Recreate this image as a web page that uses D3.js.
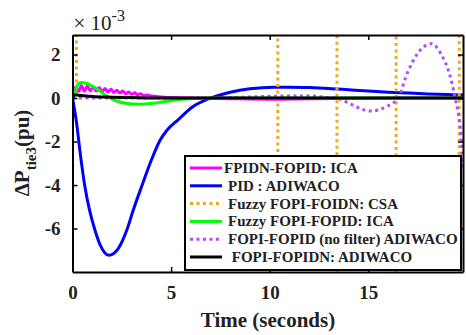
<!DOCTYPE html>
<html>
<head>
<meta charset="utf-8">
<script src="https://cdn.jsdelivr.net/npm/d3@7"></script>
<style>
  body { margin: 0; background: #fff; }
</style>
</head>
<body>
<div id="chart"></div>
<script>
// Tie-line power deviation (area 3), values in units of 1e-3 pu

var xTicks = [0, 5, 10, 15];
var yTicks = [-6, -4, -2, 0, 2];

// [time, value]
var fpidnIca = [[0,0],[0.15,0.5],[0.3,0.3],[0.45,0.58],[0.6,0.32],[0.75,0.55],[0.9,0.33],[1.05,0.52],[1.2,0.32],
  [1.35,0.48],[1.5,0.3],[1.65,0.44],[1.8,0.28],[1.95,0.4],[2.1,0.26],[2.25,0.36],[2.4,0.23],[2.55,0.32],
  [2.7,0.2],[2.85,0.28],[3.0,0.17],[3.15,0.24],[3.3,0.15],[3.45,0.2],[3.6,0.12],[3.8,0.14],[4.0,0.09],
  [4.5,0.05],[5,0.02],[6,0],[8,-0.03],[10,-0.05],[12,-0.03],[15,-0.01],[19.8,0]];

var pidAdiwaco = [[0,0],[0.2,-1.1],[0.4,-2.6],[0.63,-4.08],[0.85,-5.1],[1.14,-6.08],[1.4,-6.75],[1.85,-7.23],
  [2.3,-6.95],[2.75,-6.08],[3.1,-5.1],[3.5,-4.08],[4.0,-2.85],[4.44,-1.94],[4.8,-1.47],[5.35,-1.0],
  [6.1,-0.4],[7.0,0],[8,0.27],[9,0.43],[10.2,0.5],[11,0.5],[12,0.48],[13,0.44],[14,0.38],[15,0.32],
  [16,0.27],[17,0.23],[18,0.19],[19,0.16],[19.8,0.14]];

var fuzzyFoidnCsa = [[0,0],[0.2,0],[0.2,40],[10.4,40],[10.42,-40],[13.4,-40],[13.42,40],[16.4,40],
  [16.42,-40],[19.6,-40],[19.62,40],[19.8,40]];

var fuzzyFopidIca = [[0,0],[0.1,0.15],[0.25,0.6],[0.42,0.72],[0.7,0.68],[1.0,0.55],[1.3,0.38],[1.6,0.18],
  [1.9,0],[2.3,-0.16],[2.8,-0.25],[3.4,-0.28],[4,-0.25],[4.6,-0.17],[5.2,-0.09],[6,-0.03],[7,0],[19.8,0]];

var fopidNoFilter = [[0,0],[5,0],[8,0.02],[9,0.05],[10,0.08],[11,0.1],[12,0.1],[13,0.02],[13.4,0],
  [14.1,-0.28],[15.1,-0.6],[15.9,-0.4],[16.5,0],[17.0,1.2],[17.5,2.05],[18.2,2.5],[18.7,2.0],
  [19.1,1.15],[19.4,0],[19.7,-1.8],[19.8,-3.2]];

var fopidnAdiwaco = [[0,0],[0.15,0.15],[0.4,0.12],[1,0.07],[2,0.04],[3,0.02],[4,0],[19.8,0]];

var seriesNames = ["FPIDN-FOPID: ICA", "PID : ADIWACO", "Fuzzy FOPI-FOIDN: CSA",
  "Fuzzy FOPI-FOPID: ICA", "FOPI-FOPID (no filter) ADIWACO", " FOPI-FOPIDN: ADIWACO"];
var seriesData = [fpidnIca, pidAdiwaco, fuzzyFoidnCsa, fuzzyFopidIca, fopidNoFilter, fopidnAdiwaco];
var seriesColors = ["#ff00ff", "#0000ff", "#eda920", "#00ff00", "#b04dff", "#000000"];
var seriesDash = [null, null, "3,3.5", null, "3,3.5", null];

var serif = '"Liberation Serif", "Times New Roman", serif';
var W = 466, H = 335;
var margin = {top: 35, right: 3, bottom: 63, left: 72.5};

var svg = d3.select("#chart").append("svg")
  .attr("width", W).attr("height", H);

var x = d3.scaleLinear().domain([0, 19.8]).range([margin.left, W - margin.right]);
var y = d3.scaleLinear().domain([-8, 2.9]).range([H - margin.bottom, margin.top]);

svg.append("clipPath").attr("id", "plotclip")
  .append("rect")
    .attr("x", x(0)).attr("y", y(2.9))
    .attr("width", x(19.8) - x(0)).attr("height", y(-8) - y(2.9));

var line = d3.line()
  .x(function(d) { return x(d[0]); })
  .y(function(d) { return y(d[1]); })
  .curve(d3.curveMonotoneX);

var lineStraight = d3.line()
  .x(function(d) { return x(d[0]); })
  .y(function(d) { return y(d[1]); });

var plot = svg.append("g").attr("clip-path", "url(#plotclip)");

seriesData.forEach(function(data, i) {
  plot.append("path")
    .datum(data)
    .attr("d", i == 2 ? lineStraight : line)
    .attr("fill", "none")
    .attr("stroke", seriesColors[i])
    .attr("stroke-width", 3)
    .attr("stroke-dasharray", seriesDash[i]);
});

// axes (inward ticks, full box)
var fmt = function(d) { return d; };
function styleAxis(g) {
  g.attr("font-family", serif);
  g.selectAll("text")
    .style("font-family", serif)
    .style("font-size", "19px")
    .style("font-weight", "bold")
    .attr("fill", "#222");
  g.select(".domain").attr("stroke-width", 2);
  g.selectAll(".tick line").attr("stroke-width", 1.5);
}
svg.append("g")
  .attr("transform", "translate(0," + y(-8) + ")")
  .call(d3.axisBottom(x).tickValues(xTicks).tickSizeInner(-5).tickSizeOuter(0).tickPadding(14).tickFormat(fmt))
  .call(styleAxis);
svg.append("g")
  .attr("transform", "translate(0," + y(2.9) + ")")
  .call(d3.axisTop(x).tickValues(xTicks).tickSizeInner(-5).tickSizeOuter(0).tickFormat(""))
  .call(styleAxis);
svg.append("g")
  .attr("transform", "translate(" + x(0) + ",0)")
  .call(d3.axisLeft(y).tickValues(yTicks).tickSizeInner(-5).tickSizeOuter(0).tickPadding(12).tickFormat(fmt))
  .call(styleAxis);
svg.append("g")
  .attr("transform", "translate(" + x(19.8) + ",0)")
  .call(d3.axisRight(y).tickValues(yTicks).tickSizeInner(-5).tickSizeOuter(0).tickFormat(""))
  .call(styleAxis);

// exponent label
var expo = svg.append("text")
  .attr("x", x(0) + 1)
  .attr("y", 30)
  .style("font-family", serif)
  .style("font-size", "21px")
  .attr("fill", "#222");
expo.append("tspan").text("\u00d7 10");
expo.append("tspan").attr("dy", -9).style("font-size", "16px").text("-3");

// x axis title
svg.append("text")
  .attr("x", 268)
  .attr("y", 327)
  .attr("text-anchor", "middle")
  .style("font-family", serif)
  .style("font-size", "21px")
  .style("font-weight", "bold")
  .attr("fill", "#222")
  .text("Time (seconds)");

// y axis title
var ylab = svg.append("text")
  .attr("transform", "translate(29," + 153 + ") rotate(-90)")
  .attr("text-anchor", "middle")
  .style("font-family", serif)
  .style("font-size", "21px")
  .style("font-weight", "bold")
  .attr("fill", "#222");
ylab.append("tspan").text("\u0394P");
ylab.append("tspan").attr("dy", 7).style("font-size", "15px").text("tie3");
ylab.append("tspan").attr("dy", -7).text("(pu)");

// legend
var legX = 185, legY = 156, legW = 276, legH = 114, rowH = 17.8;
var legend = svg.append("g");
legend.append("rect")
  .attr("x", legX).attr("y", legY)
  .attr("width", legW).attr("height", legH)
  .attr("fill", "#fff")
  .attr("stroke", "#000")
  .attr("stroke-width", 2);

seriesNames.forEach(function(name, i) {
  var ry = legY + 12 + i * rowH;
  legend.append("line")
    .attr("x1", legX + 5).attr("x2", legX + 37)
    .attr("y1", ry).attr("y2", ry)
    .attr("stroke", seriesColors[i])
    .attr("stroke-width", 3)
    .attr("stroke-dasharray", seriesDash[i]);
  legend.append("text")
    .attr("x", legX + (i == 0 ? 39 : 43))
    .attr("y", ry + 5)
    .attr("xml:space", "preserve")
    .style("white-space", "pre")
    .style("font-family", serif)
    .style("font-size", "15px")
    .style("font-weight", "bold")
    .attr("fill", "#222")
    .text(name);
});
</script>
</body>
</html>
